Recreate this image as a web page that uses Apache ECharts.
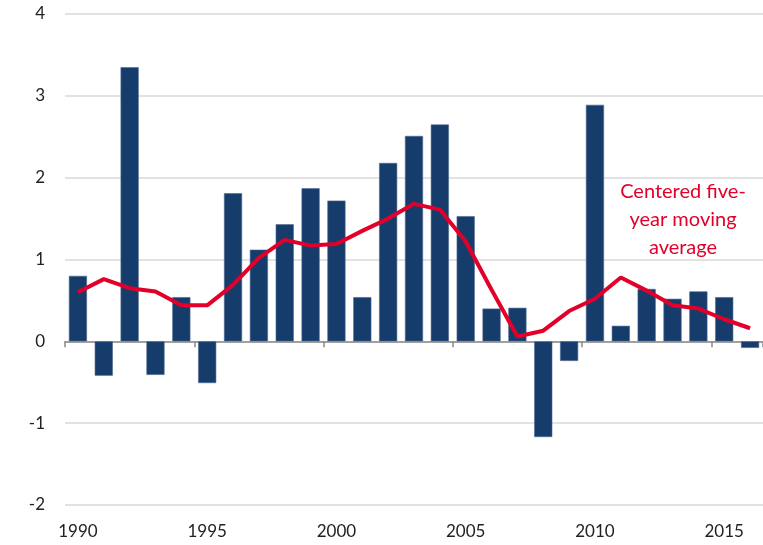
<!DOCTYPE html>
<html>
<head>
<meta charset="utf-8">
<script src="https://cdn.jsdelivr.net/npm/echarts@6/dist/echarts.min.js"></script>
<style>
  html, body { margin: 0; padding: 0; background: #fff; }
  .chart { width: 763px; height: 545px; }
</style>
</head>
<body>
<div class="chart"></div>
<script>
// 年份
const years = ['1990', '1991', '1992', '1993', '1994', '1995', '1996', '1997', '1998', '1999',
  '2000', '2001', '2002', '2003', '2004', '2005', '2006', '2007', '2008', '2009',
  '2010', '2011', '2012', '2013', '2014', '2015', '2016']
// 每年数值（柱）
const annual = [0.80, -0.42, 3.35, -0.41, 0.54, -0.51, 1.81, 1.12, 1.43, 1.87,
  1.72, 0.54, 2.18, 2.51, 2.65, 1.53, 0.40, 0.41, -1.17, -0.24,
  2.89, 0.19, 0.64, 0.52, 0.61, 0.54, -0.08]
// 五年移动平均（线）
const movingAvg = [0.60, 0.76, 0.65, 0.61, 0.44, 0.44, 0.69, 1.02, 1.24, 1.17,
  1.19, 1.35, 1.50, 1.68, 1.61, 1.22, 0.63, 0.06, 0.13, 0.37,
  0.52, 0.78, 0.62, 0.44, 0.40, 0.27, 0.16]
const yTicks = { min: -2, max: 4, step: 1 }

const font = 'Lato, "Open Sans", sans-serif'
const mycharts = echarts.init(document.querySelector('.chart'), null, { renderer: 'canvas' })
const option = {
  animation: false,
  grid: { left: 65, right: -4, top: 14, bottom: 40 },
  xAxis: [
    {
      // 底部年份标签
      type: 'category',
      data: years,
      position: 'bottom',
      axisLine: { show: false, onZero: false },
      axisTick: { show: false },
      axisLabel: {
        interval: 4,
        margin: 18,
        fontSize: 17,
        fontFamily: font,
        color: '#222'
      }
    },
    {
      // 零线 + 刻度
      type: 'category',
      data: years,
      position: 'bottom',
      axisLine: { show: true, onZero: true, lineStyle: { color: '#8a8a8a', width: 1.5 } },
      axisTick: { show: true, interval: 4, length: 6, lineStyle: { color: '#8a8a8a', width: 1.5 } },
      axisLabel: { show: false }
    }
  ],
  yAxis: {
    type: 'value',
    min: yTicks.min,
    max: yTicks.max,
    interval: yTicks.step,
    axisLine: { show: false },
    axisTick: { show: false },
    axisLabel: {
      margin: 20,
      fontSize: 17,
      fontFamily: font,
      color: '#222'
    },
    splitLine: { lineStyle: { color: '#d9d9d9', width: 1.5 } }
  },
  series: [
    {
      type: 'bar',
      data: annual,
      xAxisIndex: 1,
      barCategoryGap: '30%',
      itemStyle: { color: '#163c6c', borderColor: '#4d6a90', borderWidth: 0.6 }
    },
    {
      type: 'line',
      data: movingAvg,
      xAxisIndex: 1,
      symbol: 'none',
      lineStyle: { color: '#e2002b', width: 4 },
      z: 5
    }
  ],
  graphic: [
    {
      // 注释文字
      type: 'text',
      x: 683,
      y: 178,
      style: {
        text: 'Centered five-\nyear moving\naverage',
        fill: '#e2002b',
        font: '20px ' + font,
        align: 'center',
        textAlign: 'center',
        lineHeight: 28
      }
    }
  ]
}
mycharts.setOption(option)
</script>
</body>
</html>
